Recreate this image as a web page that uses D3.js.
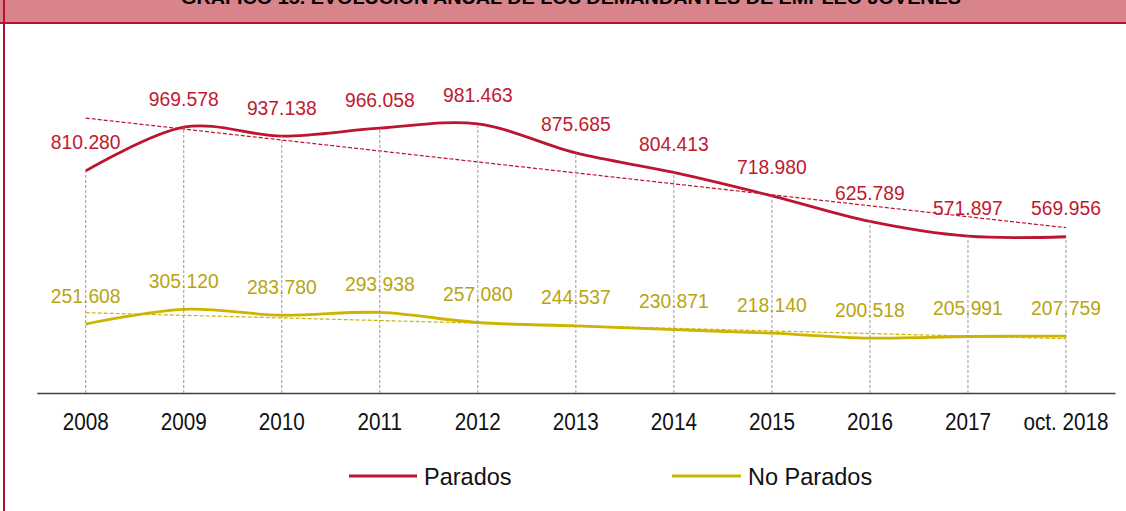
<!DOCTYPE html>
<html>
<head>
<meta charset="utf-8">
<script src="https://cdn.jsdelivr.net/npm/d3@7"></script>
<style>
  html, body { margin: 0; padding: 0; background: #fff; }
  svg { display: block; font-family: "Liberation Sans", Arial, sans-serif; }
</style>
</head>
<body>
<svg id="chart" width="1126" height="511"></svg>
<script>
const title = "GRÁFICO 15. EVOLUCIÓN ANUAL DE LOS DEMANDANTES DE EMPLEO JÓVENES";
const categories = ["2008","2009","2010","2011","2012","2013","2014","2015","2016","2017","oct. 2018"];
const parados   = [810280, 969578, 937138, 966058, 981463, 875685, 804413, 718980, 625789, 571897, 569956];
const noParados = [251608, 305120, 283780, 293938, 257080, 244537, 230871, 218140, 200518, 205991, 207759];
const seriesNames = ["Parados", "No Parados"];

const W = 1126, H = 511;
const redLine = "#bc1530", redText = "#c0192f";
const yelLine = "#ccb400", yelText = "#b9a412";

const svg = d3.select("#chart");

// Title band
svg.append("rect").attr("x", 0).attr("y", 0).attr("width", W).attr("height", 23).attr("fill", "#d9848b");
svg.append("line").attr("x1", 0).attr("x2", W).attr("y1", 23).attr("y2", 23).attr("stroke", "#b5112b").attr("stroke-width", 2);
svg.append("line").attr("x1", 4).attr("x2", 4).attr("y1", 0).attr("y2", H).attr("stroke", "#b5112b").attr("stroke-width", 2);
svg.append("text").attr("x", 571).attr("y", 4).attr("text-anchor", "middle")
  .attr("font-weight", "bold").attr("font-size", 18).attr("fill", "#000")
  .attr("textLength", 780).attr("lengthAdjust", "spacingAndGlyphs").text(title);

// Scales
const x = d3.scaleBand().domain(categories).range([36.7, 1115]).padding(0);
const cx = c => x(c) + x.bandwidth() / 2;
const y = d3.scaleLinear().domain([0, 1200000]).range([393, 64]);

// Axis
const axis = svg.append("g").attr("transform", "translate(0,393)")
  .call(d3.axisBottom(x).tickSize(0).tickPadding(0));
axis.select(".domain").attr("stroke", "#404040").attr("stroke-width", 1.5);
axis.selectAll(".tick text").remove();
axis.selectAll(".tick").append("text")
  .attr("transform", "translate(0,37) scale(0.9,1)")
  .attr("text-anchor", "middle").attr("font-size", 23).attr("fill", "#111")
  .attr("font-family", "Liberation Sans, Arial, sans-serif")
  .text(d => d);

// Trend lines (least-squares linear, as in the original spreadsheet trendline)
function trend(vals) {
  const n = vals.length, xs = d3.range(n);
  const mx = d3.mean(xs), my = d3.mean(vals);
  const b = d3.sum(xs, i => (i - mx) * (vals[i] - my)) / d3.sum(xs, i => (i - mx) ** 2);
  const a = my - b * mx;
  return [[0, a], [n - 1, a + b * (n - 1)]];
}
function drawTrend(vals, color) {
  const t = trend(vals);
  svg.append("line")
    .attr("x1", cx(categories[t[0][0]])).attr("y1", y(t[0][1]))
    .attr("x2", cx(categories[t[1][0]])).attr("y2", y(t[1][1]))
    .attr("stroke", color).attr("stroke-width", 1.2).attr("stroke-dasharray", "4,2");
}

const lineGen = d3.line().x((d, i) => cx(categories[i])).y(d => y(d)).curve(d3.curveCardinal.tension(0));

function drawSeries(vals, lc) {
  drawTrend(vals, lc);
  svg.append("path").datum(vals).attr("d", lineGen)
    .attr("fill", "none").attr("stroke", lc).attr("stroke-width", 2.8).attr("stroke-linecap", "butt");
}
drawSeries(noParados, yelLine);
drawSeries(parados, redLine);

// Value labels
const fmt = v => d3.format(",")(v).replace(/,/g, ".");
function drawLabels(vals, tc) {
  svg.append("g").selectAll("text").data(vals).join("text")
    .attr("transform", (d, i) => `translate(${cx(categories[i])},${y(d) - 21.5}) scale(0.92,1)`)
    .attr("text-anchor", "middle").attr("font-size", 21).attr("fill", tc)
    .text(d => fmt(d));
}
drawLabels(parados, redText);
drawLabels(noParados, yelText);

// Drop lines (from axis up to the highest series point), drawn over the labels as in the reference
svg.append("g").selectAll("line").data(categories).join("line")
  .attr("x1", d => cx(d)).attr("x2", d => cx(d))
  .attr("y1", 393).attr("y2", (d, i) => y(Math.max(parados[i], noParados[i])))
  .attr("stroke", "#999").attr("stroke-width", 1).attr("stroke-dasharray", "3,2");

// Legend
const legend = [
  { name: seriesNames[0], color: redLine, x1: 349, x2: 417, tx: 424 },
  { name: seriesNames[1], color: yelLine, x1: 672, x2: 741, tx: 748 }
];
legend.forEach(l => {
  svg.append("line").attr("x1", l.x1).attr("x2", l.x2).attr("y1", 476).attr("y2", 476)
    .attr("stroke", l.color).attr("stroke-width", 2.8);
  svg.append("text").attr("transform", `translate(${l.tx},484.5) scale(0.98,1)`)
    .attr("font-size", 24).attr("fill", "#111").text(l.name);
});
</script>
</body>
</html>
